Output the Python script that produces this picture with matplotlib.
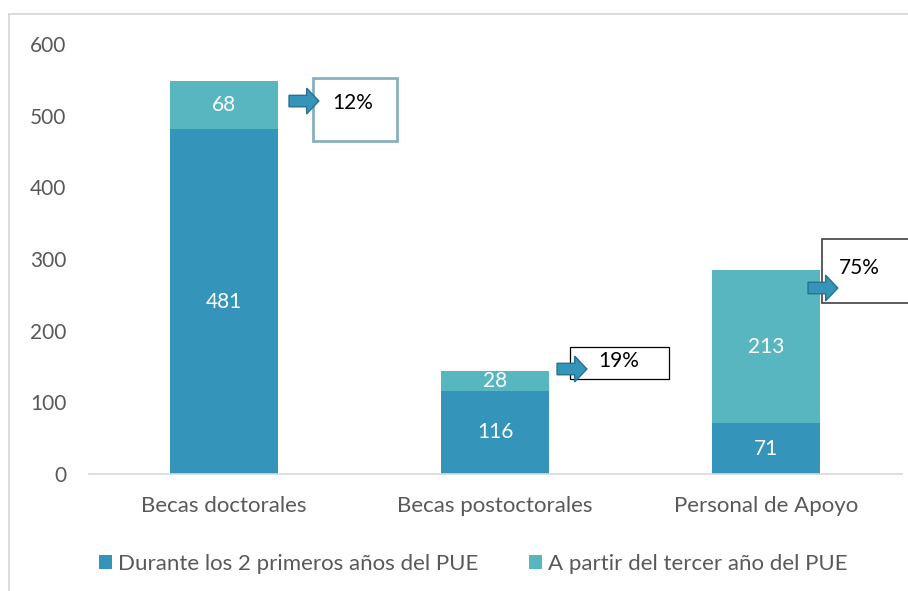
import numpy as np
import matplotlib
matplotlib.use('Agg')
from matplotlib import pyplot as plt
from matplotlib.patches import Rectangle, FancyArrow

categories = ['Becas doctorales', 'Becas postoctorales', 'Personal de Apoyo']
first_years = [481, 116, 71]
from_third = [68, 28, 213]
shares = ['12%', '19%', '75%']
series_names = ['Durante los 2 primeros años del PUE', 'A partir del tercer año del PUE']

dark_blue = '#3494BA'
teal = '#58B6C0'
text_gray = '#595959'

plt.rcParams['font.family'] = ['Lato', 'DejaVu Sans']

fig = plt.figure(figsize=(9.08, 5.91), dpi=100)
ax = fig.add_axes([88.5 / 908, 1 - 474 / 591, 813 / 908, 430 / 591])

x = np.arange(len(categories))
width = 0.4
ax.bar(x, first_years, width, color=dark_blue, label=series_names[0])
ax.bar(x, from_third, width, bottom=first_years, color=teal, label=series_names[1])

# value labels inside the bars
for xi, v in zip(x, first_years):
    ax.text(xi, v / 2, str(v), ha='center', va='center', color='white', fontsize=15)
for xi, base, v in zip(x, first_years, from_third):
    ax.text(xi, base + v / 2, str(v), ha='center', va='center', color='white', fontsize=15)

ax.set_xlim(-0.5, 2.5)
ax.set_ylim(0, 600)
ax.set_yticks(range(0, 601, 100))
ax.set_xticks(x)
ax.set_xticklabels(categories, fontsize=16)
ax.tick_params(axis='both', length=0, colors=text_gray)
ax.tick_params(axis='y', pad=16, labelsize=15)
ax.tick_params(axis='x', pad=16)
for side in ['top', 'right', 'left']:
    ax.spines[side].set_visible(False)
ax.spines['bottom'].set_color('#D9D9D9')
ax.spines['bottom'].set_linewidth(1.2)

# callouts: arrow + box with share of the third-year segment
# (box x range, box y range, arrow start x, arrow y, box edge colour, width)
callouts = [
    (0.328, 0.638, 464.6, 552.6, 0.240, 520.4, '#8AB0BE', 2.0),
    (1.277, 1.642, 132.6, 177.2, 1.229, 146.5, 'black', 0.9),
    (2.207, 2.560, 238.6, 327.9, 2.155, 259.5, '#404040', 1.2),
]
text_pos = [(0.40, 517), (1.38, 157), (2.27, 287)]
for (x0, x1, y0, y1, ax0, ay, ec, lw), (tx, ty), s in zip(callouts, text_pos, shares):
    ax.add_patch(Rectangle((x0, y0), x1 - x0, y1 - y0, facecolor='white',
                           edgecolor=ec, linewidth=lw, clip_on=False, zorder=3))
    ax.add_patch(FancyArrow(ax0, ay, 0.065, 0, width=16, head_width=36,
                            head_length=0.045, length_includes_head=False,
                            facecolor=dark_blue, edgecolor='#2A6F8F', linewidth=1.0,
                            clip_on=False, zorder=4))
    ax.text(tx, ty, s, ha='left', va='center', color='black', fontsize=15, zorder=5)

ax.legend(loc='upper center', bbox_to_anchor=(0.473, -0.14), ncol=2, frameon=False,
          fontsize=16, handlelength=0.6, handleheight=0.6, handletextpad=0.25,
          columnspacing=2.3, labelcolor=text_gray)

# chart area border
fig.patches.append(Rectangle((9 / 908, -0.1), 1.2, 1 - 14 / 591 + 0.1, transform=fig.transFigure,
                             facecolor='none', edgecolor='#D9D9D9', linewidth=1.3))

plt.savefig('out.png', dpi=100)
